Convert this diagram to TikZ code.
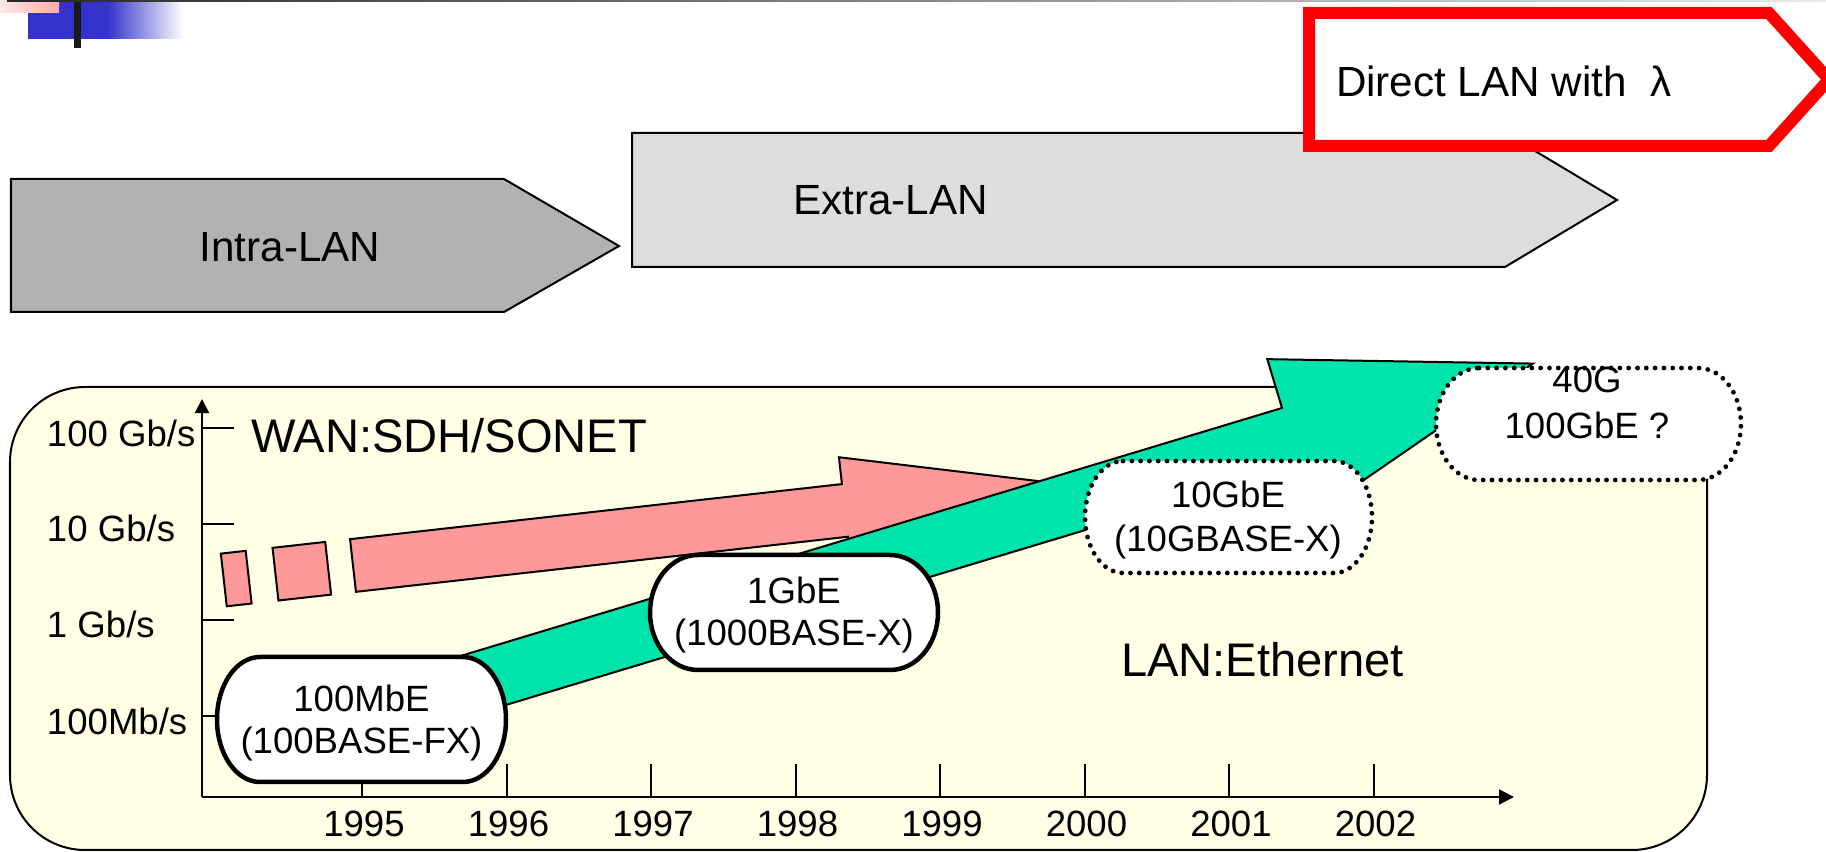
\documentclass[tikz,border=0pt]{standalone}
\usepackage{fontspec}
\setmainfont{Liberation Sans}
\usetikzlibrary{arrows.meta}
\definecolor{yellowbg}{RGB}{255,255,229}
\definecolor{pinkfill}{RGB}{255,153,153}
\definecolor{greenfill}{RGB}{0,227,170}
\definecolor{grayA}{RGB}{178,178,178}
\definecolor{grayB}{RGB}{221,221,221}
\definecolor{redline}{RGB}{255,0,0}
\definecolor{blueA}{RGB}{51,51,204}
\definecolor{pinkL}{RGB}{255,232,232}
\definecolor{pinkR}{RGB}{255,170,170}
% pill with elliptical ends: x1 y1 x2 y2 rx style
\newcommand\pillshape[6]{%
 \pgfmathsetmacro\pXa{#1+#5}\pgfmathsetmacro\pXb{#3-#5}%
 \pgfmathsetmacro\pKa{#1+0.448*#5}\pgfmathsetmacro\pKb{#3-0.448*#5}%
 \pgfmathsetmacro\pYm{(#2+#4)/2}%
 \pgfmathsetmacro\pKt{#2+0.448*(#4-#2)/2}%
 \pgfmathsetmacro\pKd{#4-0.448*(#4-#2)/2}%
 \draw[#6] (\pXa,#2) -- (\pXb,#2) .. controls (\pKb,#2) and (#3,\pKt) .. (#3,\pYm)
   .. controls (#3,\pKd) and (\pKb,#4) .. (\pXb,#4) -- (\pXa,#4)
   .. controls (\pKa,#4) and (#1,\pKd) .. (#1,\pYm)
   .. controls (#1,\pKt) and (\pKa,#2) .. (\pXa,#2) -- cycle;}
\tikzset{
  every node/.style={inner sep=0pt, outer sep=0pt},
  biglabel/.style={font=\fontsize{12}{14}\selectfont},
  hugelabel/.style={font=\fontsize{13.4}{16}\selectfont},
  smalllabel/.style={font=\fontsize{10.4}{12.5}\selectfont},
  phaseA/.style={draw=black, fill=grayA, line width=0.02cm, line join=miter},
  phaseB/.style={draw=black, fill=grayB, line width=0.02cm, line join=miter},
  phaseC/.style={draw=redline, fill=white, line width=0.12cm, line join=miter},
  axisline/.style={draw=black, line width=0.02cm},
  pinkshape/.style={draw=black, fill=pinkfill, line width=0.02cm, line join=miter},
  greenshape/.style={draw=black, fill=greenfill, line width=0.02cm, line join=miter},
  solidpill/.style={draw=black, fill=white, line width=0.045cm},
  dotpill/.style={draw=black, fill=white, line width=0.048cm, line cap=round, dash pattern=on 0pt off 0.088cm},
}
\begin{document}
\begin{tikzpicture}[x=0.01cm, y=-0.01cm]
\useasboundingbox (0,0) rectangle (1826,852);
% header decoration
\fill[blueA] (28,0) rectangle (108,39);
\shade[left color=blueA, right color=white] (107.5,0) rectangle (183,39);
\shade[left color=pinkL, right color=pinkR] (0,0) rectangle (59,13);
\fill[black!90] (74,0) rectangle (81,48);
\shade[left color=black!85, right color=black!8] (7,0) rectangle (1826,1.6);

% phase arrows
\draw[phaseA] (11,179) -- (504,179) -- (619,246) -- (504,312) -- (11,312) -- cycle;
\node[biglabel, anchor=base] (intra) at (290,262) {Intra-LAN};
\draw[phaseB] (632,133) -- (1505,133) -- (1617,200) -- (1505,267) -- (632,267) -- cycle;
\node[biglabel, anchor=base] (extra) at (890.5,215) {Extra-LAN};
\draw[phaseC] (1309,13) -- (1769,13) -- (1829,79.5) -- (1769,146) -- (1309,146) -- cycle;
\node[biglabel, anchor=base west] (direct) at (1336,97) {Direct LAN with\ \ λ};

% chart panel
\draw[fill=yellowbg, line width=0.02cm, rounded corners=0.75cm] (10,387) rectangle (1707,850);

% axes
\coordinate (O) at (202,797);
\coordinate (Ytop) at (202,399);
\coordinate (Xend) at (1514,797);
\draw[axisline, -{Triangle[length=0.14cm,width=0.14cm]}] (O) -- (Ytop);
\draw[axisline, -{Triangle[length=0.15cm,width=0.15cm]}] (O) -- (Xend);
\foreach \yy in {428,524,620,716} \draw[axisline] (202,\yy) -- (234,\yy);
\foreach \i in {0,...,7} \draw[axisline] ({362+144.5*\i},764) -- ({362+144.5*\i},797);
\node[smalllabel, anchor=base west] (y100g) at (47,447) {100 Gb/s};
\node[smalllabel, anchor=base west] (y10g) at (47,542) {10 Gb/s};
\node[smalllabel, anchor=base west] (y1g) at (47,638) {1 Gb/s};
\node[smalllabel, anchor=base west] (y100m) at (47,735) {100Mb/s};
\foreach \yr [count=\i from 0] in {1995,1996,1997,1998,1999,2000,2001,2002}
  \node[smalllabel, anchor=base] (yr\yr) at ({364+144.5*\i},837) {\yr};

\node[hugelabel, anchor=base west] (wan) at (251,453) {WAN:SDH/SONET};
\node[hugelabel, anchor=base west] (lan) at (1121,677) {LAN:Ethernet};

% WAN (pink) arrow
\begin{scope}[shift={(353,565.5)}, rotate=6.39]
  \draw[pinkshape] (-130,-26.5) -- (-105,-26.5) -- (-105,26.5) -- (-130,26.5) -- cycle;
  \draw[pinkshape] (-78,-26.5) -- (-25,-26.5) -- (-25,26.5) -- (-78,26.5) -- cycle;
  \draw[pinkshape] (0,-26.5) -- (495,-26.5) -- (495,-53.5) -- (723,0) -- (495,53.5) -- (495,26.5) -- (0,26.5) -- cycle;
\end{scope}

% LAN (green) arrow
\begin{scope}[shift={(1290.7,436.7)}, rotate=16.8]
  \draw[greenshape] (-950,-30) -- (0,-30) -- (0,-81) -- (253,0) -- (0,81) -- (0,30) -- (-950,30) -- cycle;
\end{scope}

% pills
\pillshape{217}{657}{506}{782}{43}{solidpill}
\node[smalllabel, anchor=base] (p100a) at (361.5,712) {100MbE};
\node[smalllabel, anchor=base] (p100b) at (361.5,754) {(100BASE-FX)};
\pillshape{650}{555}{938}{670}{48}{solidpill}
\node[smalllabel, anchor=base] (p1ga) at (794,604) {1GbE};
\node[smalllabel, anchor=base] (p1gb) at (794,646) {(1000BASE-X)};
\pillshape{1085}{461}{1372}{573}{38}{dotpill}
\node[smalllabel, anchor=base] (p10ga) at (1228,508) {10GbE};
\node[smalllabel, anchor=base] (p10gb) at (1228,552) {(10GBASE-X)};
\pillshape{1436}{368}{1741}{480}{43}{dotpill}
\node[smalllabel, anchor=base] (p40a) at (1587,393) {40G};
\node[smalllabel, anchor=base] (p40b) at (1587,439) {100GbE ?};
\end{tikzpicture}
\end{document}
